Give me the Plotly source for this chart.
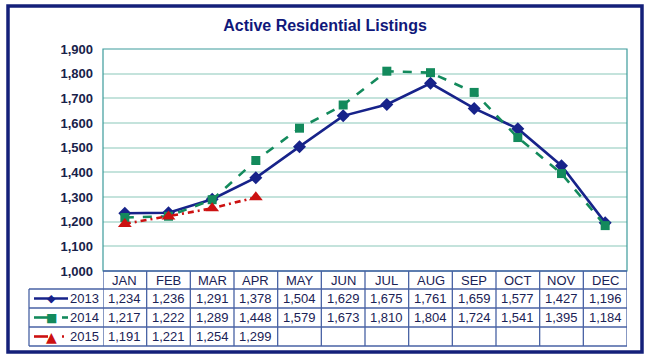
import plotly.graph_objects as go

months = ["JAN", "FEB", "MAR", "APR", "MAY", "JUN", "JUL", "AUG", "SEP", "OCT", "NOV", "DEC"]
years = ["2013", "2014", "2015"]
v2013 = [1234, 1236, 1291, 1378, 1504, 1629, 1675, 1761, 1659, 1577, 1427, 1196]
v2014 = [1217, 1222, 1289, 1448, 1579, 1673, 1810, 1804, 1724, 1541, 1395, 1184]
v2015 = [1191, 1221, 1254, 1299]
y_ticks = [1000, 1100, 1200, 1300, 1400, 1500, 1600, 1700, 1800, 1900]

W, H = 650, 364
L, R, T, B = 103, 627, 49, 271
PW, PH = R - L, B - T


def px_x(x):
    return (x - L) / PW


def px_y(y):
    return (B - y) / PH


NAVY = "#17238a"
GREEN = "#138a5c"
RED = "#cc1111"
GRID = "#c4e3dc"
TEAL = "#3c9c9c"
TLINE = "#4862a4"
TXT = "#1a2256"
FONT = "Liberation Sans, Arial, sans-serif"

series = [
    (years[0], v2013, NAVY, "solid", "diamond", 10),
    (years[1], v2014, GREEN, "dash", "square", 9),
    (years[2], v2015, RED, "6px,4px,2px,4px", "triangle-up", 12),
]

fig = go.Figure()
for name, vals, col, dash, sym, ms in series:
    fig.add_trace(go.Scatter(
        x=months[:len(vals)], y=vals, name=name, mode="lines+markers",
        line=dict(color=col, width=2.6, dash=dash),
        marker=dict(symbol=sym, size=ms, color=col),
        showlegend=False, cliponaxis=False, hoverinfo="skip",
    ))

shapes = []
annotations = []

# outer frame
shapes.append(dict(type="rect", xref="paper", yref="paper",
                   x0=px_x(8), x1=px_x(642), y0=px_y(352), y1=px_y(6),
                   line=dict(color="#14207a", width=3.5), layer="below"))
# plot border
shapes.append(dict(type="rect", xref="paper", yref="paper", x0=0, x1=1, y0=0, y1=1,
                   line=dict(color=TEAL, width=1.2)))

# table geometry
row_edges = [271, 289, 308, 327, 346]
left_col = 29
shapes.append(dict(type="line", xref="paper", yref="paper", x0=0, x1=1,
                   y0=px_y(row_edges[0]), y1=px_y(row_edges[0]), line=dict(color=TLINE, width=1.3)))
for r in row_edges[1:]:
    shapes.append(dict(type="line", xref="paper", yref="paper", x0=px_x(left_col), x1=1,
                       y0=px_y(r), y1=px_y(r), line=dict(color=TLINE, width=1.3)))
for k in range(len(months) + 1):
    shapes.append(dict(type="line", xref="x", yref="paper", x0=k - 0.5, x1=k - 0.5,
                       y0=px_y(row_edges[0]), y1=px_y(row_edges[-1]), line=dict(color=TLINE, width=1.3)))
shapes.append(dict(type="line", xref="paper", yref="paper", x0=px_x(left_col), x1=px_x(left_col),
                   y0=px_y(row_edges[1]), y1=px_y(row_edges[-1]), line=dict(color=TLINE, width=1.3)))

hc = (row_edges[0] + row_edges[1]) / 2
for m in months:
    annotations.append(dict(x=m, y=px_y(hc), xref="x", yref="paper", text=m, showarrow=False,
                            font=dict(family=FONT, size=13, color=TXT), xanchor="center", yanchor="middle"))

for i, (name, vals, col, dash, sym, ms) in enumerate(series):
    rc = (row_edges[i + 1] + row_edges[i + 2]) / 2
    for m, v in zip(months, vals):
        annotations.append(dict(x=m, y=px_y(rc), xref="x", yref="paper", text=f"{v:,}",
                                showarrow=False, font=dict(family=FONT, size=13, color=TXT),
                                xanchor="center", yanchor="middle"))
    annotations.append(dict(x=px_x(101), y=px_y(rc), xref="paper", yref="paper", text=name,
                            showarrow=False, font=dict(family=FONT, size=13, color=TXT),
                            xanchor="right", yanchor="middle"))
    if dash == "solid":
        shapes.append(dict(type="line", xref="paper", yref="paper", x0=px_x(34), x1=px_x(68),
                           y0=px_y(rc), y1=px_y(rc), line=dict(color=col, width=2.6)))
    else:
        shapes.append(dict(type="line", xref="paper", yref="paper", x0=px_x(34), x1=px_x(48),
                           y0=px_y(rc), y1=px_y(rc), line=dict(color=col, width=2.6)))
        if sym == "square":
            shapes.append(dict(type="line", xref="paper", yref="paper", x0=px_x(62), x1=px_x(68),
                               y0=px_y(rc), y1=px_y(rc), line=dict(color=col, width=2.6)))
        else:
            shapes.append(dict(type="line", xref="paper", yref="paper", x0=px_x(62), x1=px_x(64),
                               y0=px_y(rc), y1=px_y(rc), line=dict(color=col, width=2.6)))
    glyph = {"diamond": "◆", "square": "■", "triangle-up": "▲"}[sym]
    gsize = {"diamond": 11, "square": 12, "triangle-up": 14}[sym]
    annotations.append(dict(x=px_x(51), y=px_y(rc), xref="paper", yref="paper", text=glyph,
                            showarrow=False, font=dict(family="DejaVu Sans", size=gsize, color=col),
                            xanchor="center", yanchor="middle"))

fig.update_layout(
    width=W, height=H,
    margin=dict(l=L, r=W - R, t=T, b=H - B),
    paper_bgcolor="white", plot_bgcolor="white",
    title=dict(text="<b>Active Residential Listings</b>", x=0.5, xref="container", xanchor="center",
               y=1 - 25 / H, yref="container", yanchor="middle",
               font=dict(family=FONT, size=16, color="#10187a")),
    xaxis=dict(type="category", categoryorder="array", categoryarray=months, range=[-0.5, 11.5],
               showgrid=False, showticklabels=False, showline=False, zeroline=False, fixedrange=True),
    yaxis=dict(range=[1000, 1900], tickvals=y_ticks, tickformat=",", showgrid=True,
               gridcolor=GRID, gridwidth=2, zeroline=False, showline=False, fixedrange=True,
               tickfont=dict(family=FONT, size=13, color="#18224a", weight="bold"),
               ticklabelstandoff=9),
    shapes=shapes, annotations=annotations,
    hovermode=False,
)

fig.write_html("out.html", config={"displayModeBar": False},
               post_script="document.body.style.margin='0';document.body.style.overflow='hidden';")
